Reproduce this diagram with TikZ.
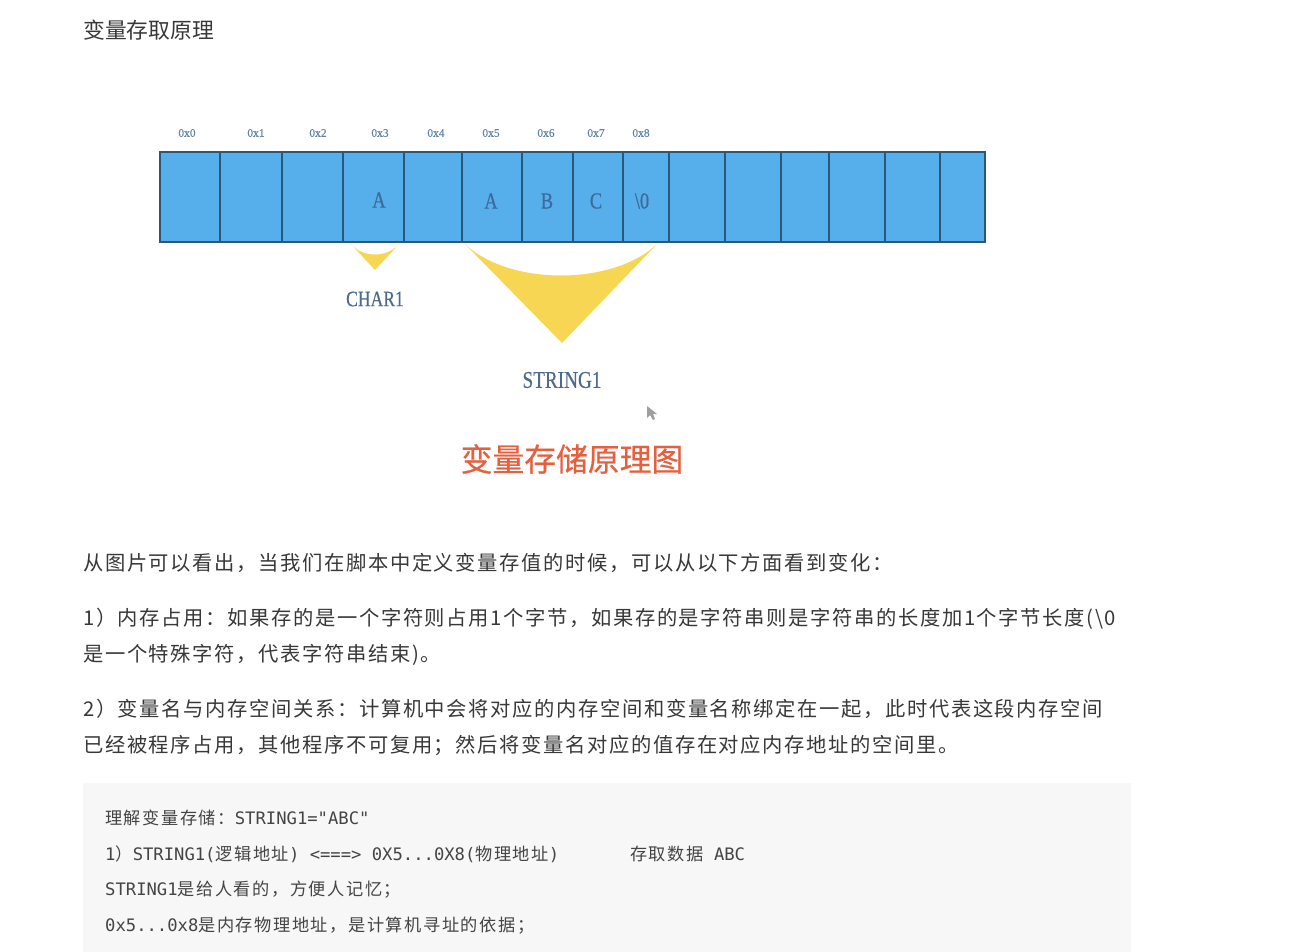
\documentclass[tikz,border=0pt]{standalone}
\usepackage{fontspec}
\newfontfamily\cjk[LetterSpace=8]{Noto Sans CJK SC}
\newfontfamily\cjktitle{Noto Sans CJK SC}
\newfontfamily\cjkcaption[FakeBold=0.6]{Noto Sans CJK SC}
\newfontfamily\cjkcode[LetterSpace=9]{Noto Sans CJK SC}
\newfontfamily\codemono{DejaVu Sans Mono}
\newfontfamily\condserif[FakeStretch=0.8,FakeBold=0.4]{Liberation Serif}
\newfontfamily\addrserif[FakeBold=0.3]{Liberation Serif}
\definecolor{cellblue}{HTML}{56AEEA}
\definecolor{cellline}{HTML}{2A5878}
\definecolor{celltext}{HTML}{3C6A9A}
\definecolor{addrtext}{HTML}{5F84A8}
\definecolor{labeltext}{HTML}{4D6B8E}
\definecolor{funnel}{HTML}{F7D654}
\definecolor{redtitle}{HTML}{E4603F}
\definecolor{bodytext}{HTML}{383838}
\definecolor{codebg}{HTML}{F7F7F7}
\definecolor{codetext}{HTML}{444444}
\tikzset{
  cellbox/.style={draw=cellline, line width=1.6pt, fill=cellblue, inner sep=0pt, minimum height=90pt, anchor=north west},
  addr/.style={font=\addrserif\fontsize{11.5}{11.5}\selectfont, text=addrtext, inner sep=0pt},
  celllbl/.style={font=\condserif\fontsize{23}{23}\selectfont, text=celltext, inner sep=0pt},
  varlbl/.style={text=labeltext, inner sep=0pt},
  bodyline/.style={font=\cjk\fontsize{20.3}{20.3}\selectfont, text=bodytext, inner sep=0pt, anchor=west},
  codeline/.style={font=\codemono\fontsize{17.2}{17.2}\selectfont, text=codetext, inner sep=0pt, anchor=west},
}
\newcommand{\zh}[1]{{\cjkcode #1}}
\begin{document}
\begin{tikzpicture}[x=1pt,y=-1pt]
\useasboundingbox (0,0) rectangle (1308,952);
\fill[white] (0,0) rectangle (1308,952);

% top title
\node[font=\cjktitle\fontsize{21.8}{21.8}\selectfont, text=bodytext, inner sep=0pt, anchor=west] (title) at (83,30) {变量存取原理};

% funnels (behind cells)
\fill[funnel] (348,241) .. controls (361,259) and (389,259) .. (402,241) -- (375,270) -- cycle;
\fill[funnel] (462,241) .. controls (505,287) and (617,287) .. (660,241) -- (562,343) -- cycle;

% memory cells
\foreach \i/\a/\b in {0/159/219,1/219/281,2/281/342,3/342/403,4/403/461,5/461/521,6/521/572,7/572/622,8/622/668,9/668/724,10/724/780,11/780/828,12/828/884,13/884/939,14/939/984}{
  \pgfmathsetmacro{\w}{\b-\a}
  \node[cellbox, minimum width=\w pt] (c\i) at (\a,151) {};
}

% addresses
\node[addr] (a0) at (187,133) {0x0};
\node[addr] (a1) at (256,133) {0x1};
\node[addr] (a2) at (318,133) {0x2};
\node[addr] (a3) at (380,133) {0x3};
\node[addr] (a4) at (436,133) {0x4};
\node[addr] (a5) at (491,133) {0x5};
\node[addr] (a6) at (546,133) {0x6};
\node[addr] (a7) at (596,133) {0x7};
\node[addr] (a8) at (641,133) {0x8};

% cell contents
\node[celllbl] (l3) at (379,200) {A};
\node[celllbl] (l5) at (491,201) {A};
\node[celllbl] (l6) at (547,201) {B};
\node[celllbl] (l7) at (596,201) {C};
\node[celllbl] (l8) at (642,201) {\textbackslash 0};

% variable labels
\node[varlbl, font=\condserif\fontsize{22}{22}\selectfont] (char1) at (375,299) {CHAR1};
\node[varlbl, font=\condserif\fontsize{24}{24}\selectfont] (string1) at (562,380) {STRING1};

% mouse cursor
\fill[gray!75] (647,406) -- (647,418) -- (650,415) -- (653,420) -- (655,419) -- (653,414) -- (657,414) -- cycle;

% red caption
\node[font=\cjkcaption\fontsize{31.8}{31.8}\selectfont, text=redtitle, inner sep=0pt] (caption) at (572,459) {变量存储原理图};

% body text
\node[bodyline] (p1) at (83,563) {从图片可以看出，当我们在脚本中定义变量存值的时候，可以从以下方面看到变化：};
\node[bodyline] (p2a) at (83,619) {1）内存占用：如果存的是一个字符则占用1个字节，如果存的是字符串则是字符串的长度加1个字节长度(\textbackslash 0};
\node[bodyline] (p2b) at (83,655) {是一个特殊字符，代表字符串结束)。};
\node[bodyline] (p3a) at (83,709) {2）变量名与内存空间关系：计算机中会将对应的内存空间和变量名称绑定在一起，此时代表这段内存空间};
\node[bodyline] (p3b) at (83,746) {已经被程序占用，其他程序不可复用；然后将变量名对应的值存在对应内存地址的空间里。};

% code block
\fill[codebg] (83,783) rectangle (1131,952);
\node[codeline] (k1) at (105,818) {\zh{理解变量存储：}STRING1="ABC"};
\node[codeline] (k2) at (105,854) {1\zh{）}STRING1(\zh{逻辑地址}) <===> 0X5...0X8(\zh{物理地址})};
\node[codeline] (k2b) at (630,854) {\zh{存取数据} ABC};
\node[codeline] (k3) at (105,890) {STRING1\zh{是给人看的，方便人记忆；}};
\node[codeline] (k4) at (105,926) {0x5...0x8\zh{是内存物理地址，是计算机寻址的依据；}};
\end{tikzpicture}
\end{document}
